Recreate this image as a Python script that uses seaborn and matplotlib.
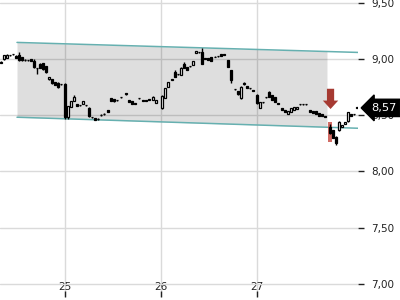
import numpy as np
import pandas as pd
import matplotlib
matplotlib.use("Agg")
import matplotlib.pyplot as plt
import matplotlib.transforms as mtransforms
from matplotlib.ticker import FuncFormatter, FixedLocator
import seaborn as sns

# ---- data (day of month, OHLC) ----
t = [24.333, 24.365, 24.396, 24.427, 24.458, 24.490, 24.521, 24.552, 24.583, 24.615,
     24.646, 24.677, 24.708, 24.740, 24.771, 24.802, 24.833, 24.865, 24.896, 24.927,
     24.958, 25.000, 25.031, 25.063, 25.094, 25.125, 25.156, 25.188, 25.219, 25.250,
     25.281, 25.313, 25.344, 25.375, 25.406, 25.448, 25.479, 25.510, 25.542, 25.583,
     25.635, 25.667, 25.698, 25.729, 25.771, 25.813, 25.844, 25.875, 25.917, 25.948,
     26.010, 26.042, 26.073, 26.115, 26.146, 26.177, 26.208, 26.240, 26.271, 26.302,
     26.333, 26.365, 26.396, 26.427, 26.458, 26.490, 26.521, 26.563, 26.594, 26.625,
     26.656, 26.698, 26.729, 26.771, 26.802, 26.833, 26.865, 26.896, 26.927, 26.958,
     27.000, 27.031, 27.063, 27.094, 27.125, 27.156, 27.188, 27.219, 27.260, 27.292,
     27.323, 27.354, 27.385, 27.417, 27.448, 27.479, 27.510, 27.552, 27.583, 27.615,
     27.646, 27.677, 27.708, 27.760, 27.792, 27.823, 27.854, 27.885, 27.917, 27.948,
     27.979, 28.010, 28.042]
o = [8.973, 9.000, 9.009, 9.031, 9.040, 9.027, 9.036, 9.018, 8.991, 8.991,
     9.000, 8.982, 8.920, 8.956, 8.964, 8.938, 8.822, 8.822, 8.796, 8.787,
     8.778, 8.778, 8.484, 8.573, 8.627, 8.600, 8.591, 8.600, 8.591, 8.564,
     8.484, 8.476, 8.467, 8.502, 8.511, 8.547, 8.653, 8.644, 8.636, 8.662,
     8.689, 8.636, 8.627, 8.609, 8.653, 8.627, 8.627, 8.636, 8.636, 8.609,
     8.564, 8.653, 8.751, 8.813, 8.884, 8.867, 8.858, 8.956, 8.929, 8.938,
     8.947, 9.053, 9.062, 9.062, 9.009, 9.009, 9.018, 9.018, 9.027, 9.044,
     9.044, 8.991, 8.902, 8.733, 8.716, 8.653, 8.787, 8.760, 8.742, 8.724,
     8.680, 8.564, 8.618, 8.662, 8.707, 8.680, 8.662, 8.609, 8.564, 8.547,
     8.511, 8.529, 8.547, 8.556, 8.600, 8.600, 8.600, 8.547, 8.538, 8.538,
     8.520, 8.511, 8.493, 8.396, 8.369, 8.307, 8.369, 8.396, 8.422, 8.449,
     8.511, 8.511, 8.564]
h = [8.982, 9.036, 9.044, 9.036, 9.044, 9.036, 9.062, 9.018, 8.996, 8.991,
     9.000, 9.000, 8.920, 8.964, 8.964, 8.938, 8.840, 8.822, 8.796, 8.796,
     8.778, 8.787, 8.582, 8.627, 8.680, 8.600, 8.591, 8.627, 8.591, 8.573,
     8.484, 8.476, 8.471, 8.511, 8.516, 8.547, 8.653, 8.644, 8.636, 8.662,
     8.693, 8.636, 8.627, 8.609, 8.653, 8.631, 8.631, 8.640, 8.671, 8.636,
     8.680, 8.742, 8.796, 8.822, 8.902, 8.867, 8.929, 8.973, 8.929, 8.938,
     8.982, 9.071, 9.062, 9.098, 9.009, 9.009, 9.018, 9.022, 9.027, 9.044,
     9.044, 8.991, 8.902, 8.733, 8.716, 8.760, 8.796, 8.760, 8.742, 8.724,
     8.689, 8.618, 8.618, 8.662, 8.716, 8.680, 8.662, 8.609, 8.564, 8.547,
     8.538, 8.564, 8.573, 8.573, 8.600, 8.600, 8.600, 8.547, 8.538, 8.538,
     8.520, 8.511, 8.493, 8.422, 8.369, 8.316, 8.449, 8.413, 8.440, 8.529,
     8.511, 8.511, 8.573]
l = [8.964, 8.991, 9.009, 9.027, 9.036, 9.009, 8.982, 8.982, 8.982, 8.982,
     8.982, 8.920, 8.867, 8.920, 8.902, 8.876, 8.813, 8.778, 8.769, 8.742,
     8.769, 8.467, 8.467, 8.573, 8.627, 8.582, 8.582, 8.600, 8.582, 8.484,
     8.476, 8.458, 8.458, 8.493, 8.502, 8.529, 8.627, 8.618, 8.627, 8.653,
     8.684, 8.618, 8.600, 8.600, 8.644, 8.622, 8.622, 8.631, 8.636, 8.609,
     8.556, 8.653, 8.751, 8.813, 8.840, 8.858, 8.858, 8.920, 8.902, 8.929,
     8.947, 9.053, 9.053, 8.956, 8.996, 8.991, 8.982, 9.013, 9.018, 9.027,
     9.036, 8.929, 8.787, 8.724, 8.680, 8.644, 8.769, 8.742, 8.733, 8.716,
     8.600, 8.564, 8.609, 8.653, 8.662, 8.636, 8.618, 8.600, 8.547, 8.529,
     8.511, 8.529, 8.547, 8.556, 8.591, 8.591, 8.591, 8.529, 8.520, 8.511,
     8.493, 8.493, 8.480, 8.333, 8.298, 8.236, 8.360, 8.396, 8.422, 8.440,
     8.493, 8.502, 8.560]
c = [8.964, 9.036, 9.036, 9.036, 9.040, 9.009, 8.991, 8.991, 8.987, 8.987,
     8.982, 8.929, 8.916, 8.920, 8.911, 8.884, 8.840, 8.787, 8.769, 8.751,
     8.773, 8.484, 8.582, 8.627, 8.662, 8.582, 8.587, 8.627, 8.587, 8.493,
     8.480, 8.458, 8.462, 8.498, 8.507, 8.529, 8.627, 8.627, 8.631, 8.658,
     8.689, 8.618, 8.600, 8.604, 8.649, 8.627, 8.627, 8.636, 8.662, 8.636,
     8.671, 8.742, 8.796, 8.818, 8.840, 8.862, 8.920, 8.920, 8.902, 8.933,
     8.982, 9.071, 9.058, 8.956, 9.000, 8.991, 8.982, 9.013, 9.022, 9.027,
     9.036, 8.929, 8.813, 8.729, 8.689, 8.751, 8.778, 8.742, 8.738, 8.716,
     8.609, 8.618, 8.613, 8.658, 8.662, 8.636, 8.618, 8.604, 8.547, 8.529,
     8.538, 8.564, 8.573, 8.573, 8.596, 8.596, 8.596, 8.529, 8.520, 8.511,
     8.493, 8.493, 8.480, 8.342, 8.298, 8.253, 8.440, 8.413, 8.440, 8.529,
     8.493, 8.507, 8.570]

channel_t = [24.5, 28.052]
channel_upper = [9.147, 9.058]
channel_lower = [8.482, 8.384]
channel_fill_end = 27.729

signal_t = 27.766
signal_top = 8.735
signal_tip = 8.555

highlight_t = 27.76
highlight_low = 8.262
highlight_high = 8.44

last_price = 8.565
last_label = "8,57"

y_ticks = [7.0, 7.5, 8.0, 8.5, 9.0, 9.5]
x_ticks = [25, 26, 27]
x_labels = ["25", "26", "27"]

# ---- style ----
sns.set_theme(style="white")
plt.rcParams["font.family"] = ["DejaVu Sans"]

fig = plt.figure(figsize=(4, 3), dpi=100)
ax = fig.add_axes([0.0, 0.01, 0.895, 0.99])
ax.set_xlim(24.323, 28.052)
ax.set_ylim(6.884, 9.524)

for s in ax.spines.values():
    s.set_visible(False)

ax.set_axisbelow(True)
ax.grid(True, color="#dadada", linewidth=1.0)

# channel fill
fx = np.array([channel_t[0], channel_fill_end])
fu = np.interp(fx, channel_t, channel_upper)
fl = np.interp(fx, channel_t, channel_lower)
ax.fill_between(fx, fl, fu, color="black", alpha=0.13, linewidth=0, zorder=1)

# channel lines
df_ch = pd.DataFrame({"t": channel_t * 2,
                      "p": channel_upper + channel_lower,
                      "line": ["upper"] * 2 + ["lower"] * 2})
sns.lineplot(data=df_ch, x="t", y="p", units="line", estimator=None,
             color="#66b0b0", linewidth=1.1, ax=ax, legend=False, zorder=2)

# highlight bar
ax.bar([highlight_t], [highlight_high - highlight_low], bottom=[highlight_low],
       width=0.042, color="#c9524a", alpha=0.85, linewidth=0, zorder=2.5)

# candles
df = pd.DataFrame({"t": t, "o": o, "h": h, "l": l, "c": c})
ax.vlines(df["t"], df["l"], df["h"], color="black", linewidth=1.0, zorder=3)
body_lo = np.minimum(df["o"], df["c"])
body_h = np.maximum(np.abs(df["c"] - df["o"]), 0.006)
colors = np.where(df["c"] > df["o"], "white", "black")
ax.bar(df["t"], body_h, bottom=body_lo, width=0.024, color=colors,
       edgecolor="black", linewidth=0.9, zorder=3.5)

# signal arrow
ax.arrow(signal_t, signal_top, 0, signal_tip - signal_top, width=0.075,
         head_width=0.16, head_length=0.075, length_includes_head=True,
         color="#a63a32", linewidth=0, zorder=5)

# axes ticks
ax.yaxis.tick_right()
ax.yaxis.set_major_locator(FixedLocator(y_ticks))
ax.yaxis.set_major_formatter(FuncFormatter(lambda v, p: f"{v:.2f}".replace(".", ",")))
ax.tick_params(axis="y", which="major", direction="out", length=4, width=1,
               color="#222222", pad=5.5, labelsize=7.5, labelcolor="#222222",
               right=True, left=False)
ax.set_xticks(x_ticks)
ax.set_xticklabels(x_labels)
ax.tick_params(axis="x", which="major", direction="in", length=4, width=1,
               color="#222222", pad=-10.5, labelsize=7.5, labelcolor="#222222",
               bottom=True)
ax.set_xlabel("")
ax.set_ylabel("")

# last price label
trans = mtransforms.blended_transform_factory(ax.transAxes, ax.transData)
ax.text(1.036, last_price, last_label, transform=trans, color="white",
        fontsize=8.2, ha="left", va="center", zorder=10, clip_on=False,
        bbox=dict(boxstyle="larrow,pad=0.32", fc="black", ec="black"))

fig.savefig("out.png", dpi=100)
